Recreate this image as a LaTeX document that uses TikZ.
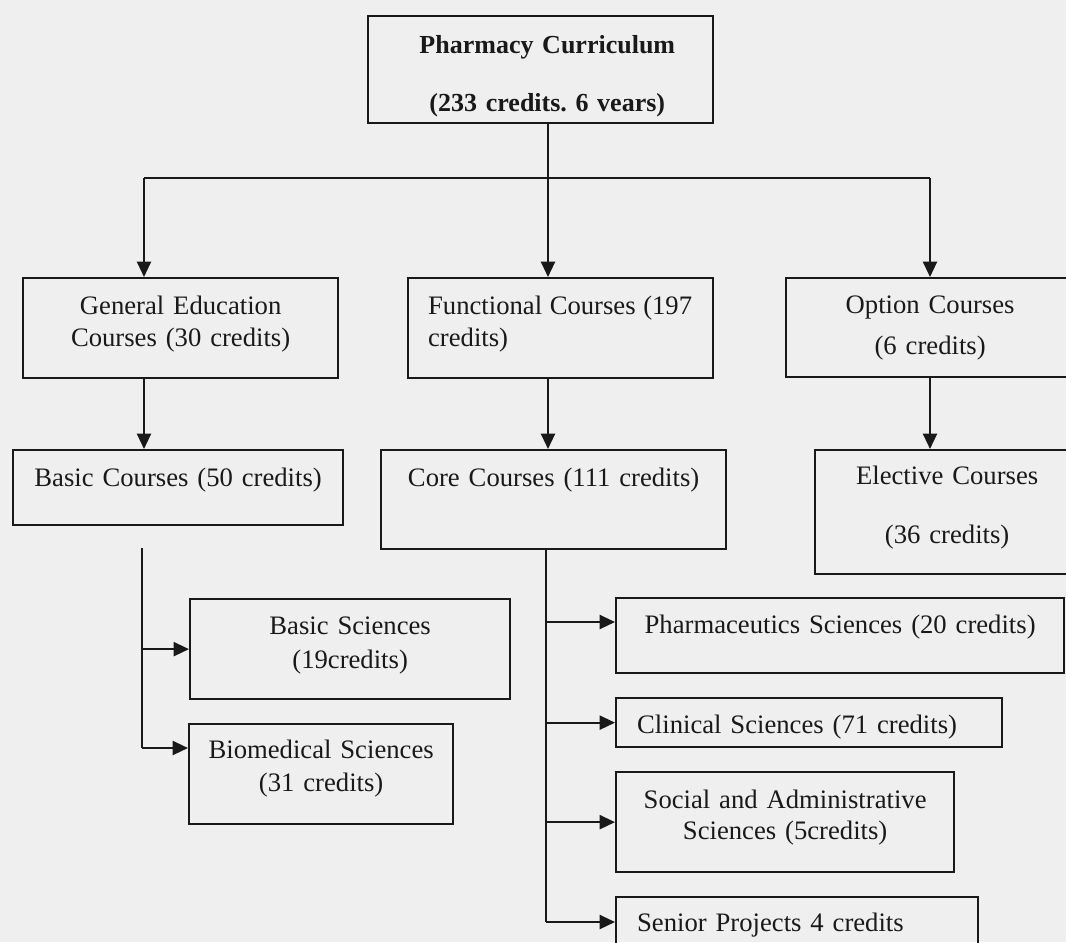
\documentclass[tikz,border=0pt]{standalone}
\usepackage{fontspec}
\setmainfont{Liberation Serif}
\usetikzlibrary{arrows.meta}
\definecolor{bgc}{RGB}{239,239,239}
\definecolor{ink}{RGB}{25,25,25}
\frenchspacing
\begin{document}
\begin{tikzpicture}[x=0.75pt,y=-0.75pt,
  box/.style={draw=ink,line width=1.7pt,anchor=north west,inner sep=0pt,
    text=ink,align=center,font=\fontsize{20}{24}\selectfont},
  lbox/.style={box,align=left},
  ln/.style={draw=ink,line width=1.6pt},
  arr/.style={ln,-{Triangle[length=11.5pt,width=10.5pt]}}]
\clip (0,0) rectangle (1066,942);
\fill[bgc] (0,0) rectangle (1066,942);
% level 0
\node[box,font=\fontsize{19.5}{24}\selectfont\bfseries,text width=258.75pt,text height=27.75pt,text depth=52.5pt]
  (top) at (367,15) {\hspace*{10pt}Pharmacy Curriculum\\[19.5pt]\hspace*{10pt}(233 credits. 6 vears)};
% level 1
\node[box,text width=236.25pt,text height=27pt,text depth=48pt]
  (ge) at (22,277) {General Education\\Courses (30 credits)};
\node[lbox,text width=228.75pt,text height=27pt,text depth=48pt]
  (fc) at (407,277) {\hspace*{15pt}\makebox[198pt][s]{Functional\hfill Courses\hfill (197}\\\hspace*{15pt}credits)};
\node[box,text width=216pt,text height=26.25pt,text depth=48pt]
  (oc) at (785,277) {Option Courses\\[6.75pt](6 credits)};
% level 2
\node[box,text width=247.5pt,text height=27pt,text depth=29.25pt]
  (bc) at (12,449) {Basic Courses (50 credits)};
\node[box,text width=258.75pt,text height=27pt,text depth=47.25pt]
  (cc) at (380,449) {Core Courses (111 credits)};
\node[box,text width=198pt,text height=25.5pt,text depth=67.5pt]
  (ec) at (814,449) {Elective Courses\\[20.25pt](36 credits)};
% level 3 left
\node[box,text width=240pt,text height=26.25pt,text depth=48.75pt]
  (bs) at (189,598) {Basic Sciences\\[1.5pt](19credits)};
\node[box,text width=198pt,text height=25.5pt,text depth=49.5pt]
  (bm) at (188,723) {Biomedical Sciences\\[0.75pt](31 credits)};
% level 3 right
\node[box,text width=336pt,text height=26.25pt,text depth=30pt]
  (ps) at (615,597) {Pharmaceutics Sciences (20 credits)};
\node[lbox,text width=289.5pt,text height=26.25pt,text depth=10.5pt]
  (cs) at (615,697) {\hspace*{15.75pt}Clinical Sciences (71 credits)};
\node[box,text width=253.5pt,text height=27pt,text depth=48pt]
  (sa) at (615,771) {Social and Administrative\\[-0.75pt]Sciences (5credits)};
\node[lbox,text width=271.5pt,text height=25.5pt,text depth=30pt]
  (sp) at (615,896) {\hspace*{15.75pt}Senior Projects 4 credits};
% bus from top
\coordinate (c1) at (144,178);
\coordinate (c2) at (548,178);
\coordinate (c3) at (930,178);
\draw[ln] (top.south -| c2) -- (c2);
\draw[ln] (c1) -- (c3);
\draw[arr] (c1) -- (c1 |- ge.north);
\draw[arr] (c2) -- (c2 |- fc.north);
\draw[arr] (c3) -- (c3 |- oc.north);
\draw[arr] (c1 |- ge.south) -- (c1 |- bc.north);
\draw[arr] (c2 |- fc.south) -- (c2 |- cc.north);
\draw[arr] (c3 |- oc.south) -- (c3 |- ec.north);
% basic branch
\coordinate (b0) at (142,548);
\coordinate (b1) at (142,748);
\draw[ln] (b0) -- (b1);
\draw[arr] (b0 |- bs.west) -- (bs.west);
\draw[arr] (b1) -- (b1 -| bm.west);
% core branch
\coordinate (k) at (546,922);
\coordinate (kp) at (546,622);
\draw[ln] (k |- cc.south) -- (k);
\draw[arr] (kp) -- (kp -| ps.west);
\draw[arr] (k |- cs.west) -- (cs.west);
\draw[arr] (k |- sa.west) -- (sa.west);
\draw[arr] (k) -- (k -| sp.west);
\end{tikzpicture}
\end{document}
